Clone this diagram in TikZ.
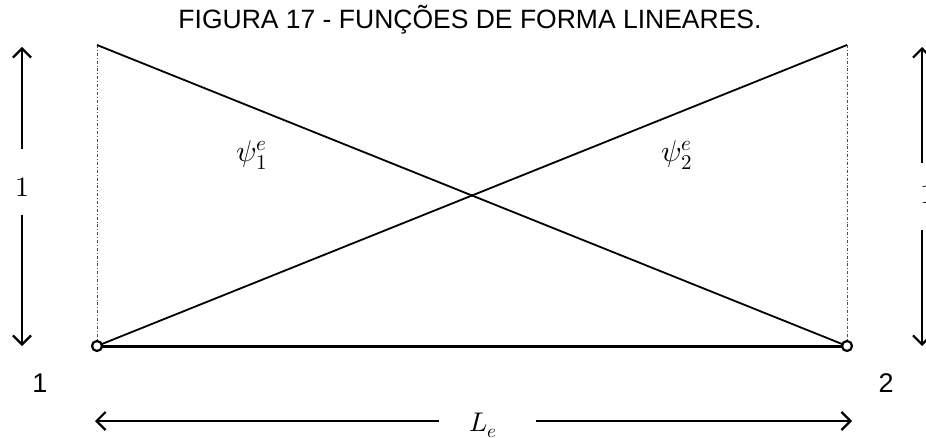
\documentclass[tikz,border=0pt]{standalone}
\usepackage{fontspec}
\usepackage{unicode-math}
\setmathfont{Latin Modern Math}
\setsansfont{Liberation Sans}
\usetikzlibrary{arrows.meta}
\begin{document}
\begin{tikzpicture}[x=1pt,y=-1pt,
  thinline/.style={line width=1.8pt},
  guide/.style={line width=0.8pt, gray!60!black, dash dot},
  dimarrow/.style={line width=2.2pt, -{Straight Barb[length=9pt,width=18pt,line width=2.2pt]}},
  endnode/.style={circle, draw, fill=white, line width=2.2pt, minimum size=10pt, inner sep=0pt},
  lab/.style={font=\sffamily\fontsize{27}{30}\selectfont, inner sep=0pt},
  mlab/.style={font=\fontsize{30}{34}\selectfont, inner sep=0pt}
]
\useasboundingbox (0,0) rectangle (926,438);
\clip (0,0) rectangle (926,438);
\fill[white] (0,0) rectangle (926,438);
\node[lab, font=\sffamily\fontsize{26.5}{30}\selectfont] (title) at (470,20) {FIGURA 17 - FUNÇÕES DE FORMA LINEARES.};
\coordinate (tl) at (97,45);
\coordinate (tr) at (847,45);
\coordinate (bl) at (97,346);
\coordinate (br) at (847,346);
\draw[guide] (tl) -- (bl);
\draw[guide] (tr) -- (br);
\draw[thinline] (tl) -- (br);
\draw[thinline] (bl) -- (tr);
\draw[line width=3pt] (bl) -- (br);
\node[endnode] (n1) at (bl) {};
\node[endnode] (n2) at (br) {};
\node[mlab] (psi1) at (252,155) {$\psi_1^e$};
\node[mlab] (psi2) at (677,155) {$\psi_2^e$};
% left vertical dimension
\node[mlab, font=\fontsize{28}{30}\selectfont] (one1) at (22,187) {$1$};
\coordinate (l1t) at (22,47);
\coordinate (l1b) at (22,346);
\draw[dimarrow] (22,149) -- (l1t);
\draw[dimarrow] (22,215) -- (l1b);
% right vertical dimension
\node[mlab, font=\fontsize{28}{30}\selectfont] (one2) at (927,194) {$1$};
\coordinate (r1t) at (922,47);
\coordinate (r1b) at (922,346);
\draw[dimarrow] (922,163) -- (r1t);
\draw[dimarrow] (922,230) -- (r1b);
% node numbers
\node[lab] (num1) at (40,383) {1};
\node[lab] (num2) at (886,383) {2};
% horizontal dimension
\node[mlab, font=\fontsize{27}{32}\selectfont, anchor=base] (Le) at (483,431) {$L_e$};
\coordinate (hl) at (95,421);
\coordinate (hr) at (852,421);
\draw[dimarrow] (439,421) -- (hl);
\draw[dimarrow] (536,421) -- (hr);
\end{tikzpicture}
\end{document}
